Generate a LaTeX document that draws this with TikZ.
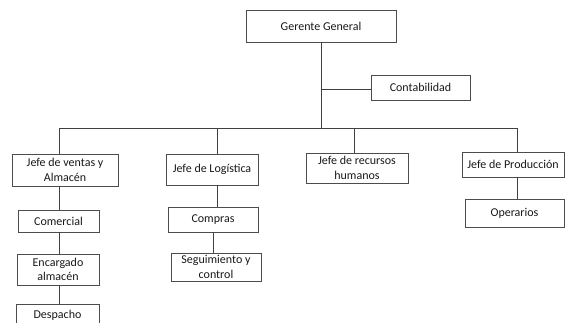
\documentclass[tikz,border=0pt]{standalone}
\usepackage{fontspec}
\setmainfont{Carlito}
\begin{document}
\begin{tikzpicture}[x=1pt,y=-1pt,
  box/.style={draw=black!70, line width=0.8pt, fill=white, inner sep=0pt, align=center,
    font=\fontsize{12}{14.5}\selectfont, text=black!90},
  conn/.style={draw=black!75, line width=0.8pt}]
\useasboundingbox (0,0) rectangle (565,322);
\clip (0,0) rectangle (565,322);
\fill[white] (0,0) rectangle (565,322);
% nodes
\node[box, minimum width=150pt, minimum height=32pt] (gg) at (321,26) {Gerente General};
\node[box, minimum width=99pt, minimum height=25pt] (cont) at (420.5,87.5) {Contabilidad};
\node[box, minimum width=106pt, minimum height=32pt] (ventas) at (65,170) {Jefe de ventas y\\Almacén};
\node[box, minimum width=81pt, minimum height=22pt] (comercial) at (58.5,221) {Comercial};
\node[box, minimum width=82pt, minimum height=31pt] (encargado) at (58,269.5) {Encargado\\almacén};
\node[box, minimum width=83pt, minimum height=30pt, anchor=north] (despacho) at (57.5,304) {\raisebox{10pt}{Despacho}};
\node[box, minimum width=92pt, minimum height=31pt] (logistica) at (212,169.5) {Jefe de Logística};
\node[box, minimum width=90pt, minimum height=25pt] (compras) at (213,219.5) {Compras};
\node[box, minimum width=90pt, minimum height=28pt] (seguimiento) at (216,267) {Seguimiento y\\control};
\node[box, minimum width=102pt, minimum height=30pt] (recursos) at (357,168) {Jefe de recursos\\humanos};
\node[box, minimum width=102pt, minimum height=25pt] (produccion) at (513,164.5) {Jefe de Producción};
\node[box, minimum width=99pt, minimum height=28pt] (operarios) at (514.5,213) {Operarios};
% bus coordinates
\coordinate (busc) at (321,128);
\coordinate (b1) at (59,128);
\coordinate (b2) at (217,128);
\coordinate (b3) at (354,128);
\coordinate (b4) at (517,128);
\coordinate (cj) at (321,89);
% connectors
\draw[conn] (gg.south) -- (busc);
\draw[conn] (cj) -- (cj -| cont.west);
\draw[conn] (b1) -- (b4);
\draw[conn] (b1) -- (b1 |- ventas.north);
\draw[conn] (b2) -- (b2 |- logistica.north);
\draw[conn] (b3) -- (b3 |- recursos.north);
\draw[conn] (b4) -- (b4 |- produccion.north);
\draw[conn] (b1 |- ventas.south) -- (b1 |- comercial.north);
\draw[conn] (b1 |- comercial.south) -- (b1 |- encargado.north);
\draw[conn] (b1 |- encargado.south) -- (b1 |- despacho.north);
\draw[conn] (b2 |- logistica.south) -- (b2 |- compras.north);
\coordinate (b2s) at (213,128);
\draw[conn] (b2s |- compras.south) -- (b2s |- seguimiento.north);
\draw[conn] (b4 |- produccion.south) -- (b4 |- operarios.north);
\end{tikzpicture}
\end{document}
